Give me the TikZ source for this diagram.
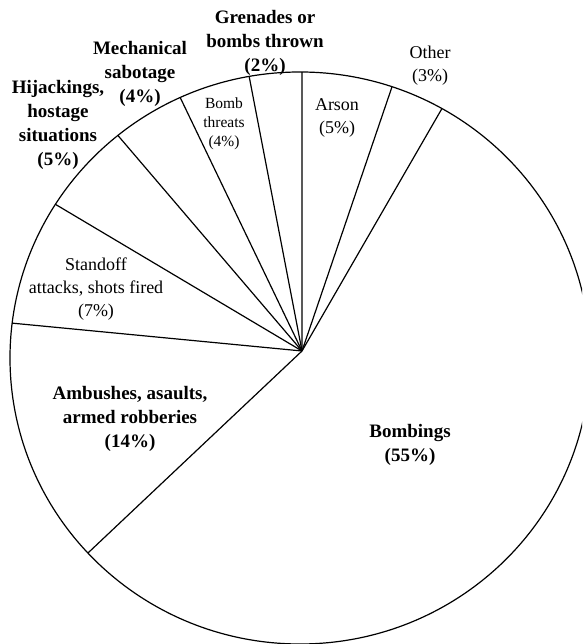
\documentclass[tikz,border=0pt]{standalone}
\usepackage{fontspec}
\setmainfont{Liberation Serif}
\begin{document}
\begin{tikzpicture}[x=1pt,y=1pt,line width=1.2pt,
  lblb/.style={align=center,inner sep=0pt,font=\fontsize{19}{24}\selectfont\bfseries},
  lblr/.style={align=center,inner sep=0pt,font=\fontsize{18}{23}\selectfont},
  lbls/.style={align=center,inner sep=0pt,font=\fontsize{15.5}{19}\selectfont},
  wedge/.style={line width=1.2pt}]
\useasboundingbox (0,0) rectangle (582,644);
\clip (0,0) rectangle (582,644);
\coordinate (C) at (300,286);
\coordinate (P) at (302,293);
\draw (C) ellipse [x radius=290, y radius=286];
\foreach \t/\n in {60.7/b1,71.5/b2,89.6/b3,100.1/b4,114.4/b5,128.9/b6,147.5/b7,173/b8,223/b9}{
  \coordinate (\n) at ([shift={(\t:290 and 286)}]C);
  \draw[wedge] (P) -- (\n);
}
\node[lblb] (gren) at (265,601.5) {Grenades or\\bombs thrown\\(2\%)};
\node[lblb] (mech) at (140,570.5) {Mechanical\\sabotage\\(4\%)};
\node[lblb] (hij) at (58,519) {Hijackings,\\hostage\\situations\\(5\%)};
\node[lbls] (bthr) at (224,520) {Bomb\\threats\\(4\%)};
\node[lblr] (arson) at (337,526.5) {Arson\\(5\%)};
\node[lblr] (other) at (430,578.5) {Other\\(3\%)};
\node[lblr] (stand) at (96,355) {Standoff\\attacks, shots fired\\(7\%)};
\node[lblb] (amb) at (130,225) {Ambushes, asaults,\\armed robberies\\(14\%)};
\node[lblb] (bomb) at (410,199.5) {Bombings\\(55\%)};
\end{tikzpicture}
\end{document}
